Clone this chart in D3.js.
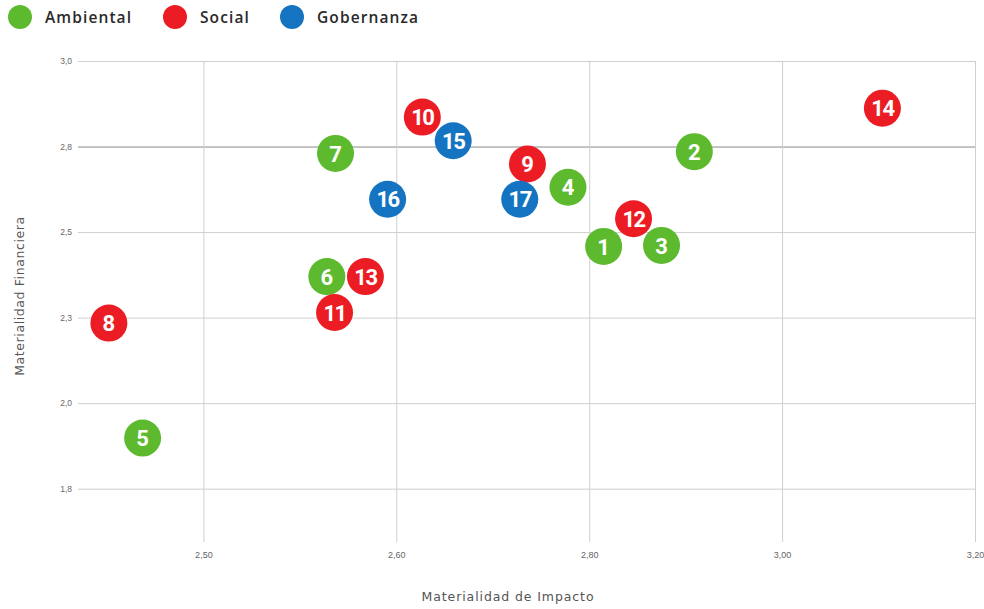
<!DOCTYPE html>
<html>
<head>
<meta charset="utf-8">
<script src="https://cdn.jsdelivr.net/npm/d3@7"></script>
<style>
  body { margin: 0; background: #fff; }
  svg { display: block; font-family: "Open Sans", sans-serif; }
</style>
</head>
<body>
<svg id="chart" width="984" height="609"></svg>
<script>
// data
const groups = ['Ambiental', 'Social', 'Gobernanza'];
const groupColors = ['#5dba2f', '#ec1c24', '#1574c1'];

const ids = [1, 2, 3, 4, 5, 6, 7, 8, 9, 10, 11, 12, 13, 14, 15, 16, 17];
const impacto = [2.815, 2.909, 2.875, 2.778, 2.337, 2.528, 2.537, 2.302, 2.736, 2.627, 2.536, 2.846, 2.568, 3.104, 2.659, 2.591, 2.728];
const financiera = [2.458, 2.735, 2.461, 2.631, 1.898, 2.370, 2.730, 2.234, 2.699, 2.836, 2.265, 2.539, 2.370, 2.862, 2.767, 2.596, 2.596];
const grupo = ['Ambiental', 'Ambiental', 'Ambiental', 'Ambiental', 'Ambiental', 'Ambiental', 'Ambiental',
  'Social', 'Social', 'Social', 'Social', 'Social', 'Social', 'Social',
  'Gobernanza', 'Gobernanza', 'Gobernanza'];

const xTicks = [2.4, 2.6, 2.8, 3.0, 3.2];
const xTickLabels = ['2,50', '2,60', '2,80', '3,00', '3,20'];
const yTicks = [3.0, 2.75, 2.5, 2.25, 2.0, 1.75];
const yTickLabels = ['3,0', '2,8', '2,5', '2,3', '2,0', '1,8'];

const points = ids.map((id, i) => ({ id, x: impacto[i], y: financiera[i], g: grupo[i] }));

const svg = d3.select('#chart');

const x = d3.scaleLinear().domain([2.27, 3.2]).range([78, 975]);
const y = d3.scaleLinear().domain([1.6, 3.0]).range([540, 61]);
const color = d3.scaleOrdinal().domain(groups).range(groupColors);

// horizontal grid + y labels
const yAxis = d3.axisLeft(y)
  .tickValues(yTicks)
  .tickSize(-(975 - 78))
  .tickFormat((d, i) => yTickLabels[i]);

svg.append('g')
  .attr('transform', 'translate(78,0)')
  .call(yAxis)
  .call(g => g.select('.domain').remove())
  .call(g => g.selectAll('.tick line')
    .attr('stroke', (d, i) => i === 1 ? '#8a8a8a' : '#cfcfcf')
    .attr('stroke-width', 1))
  .call(g => g.selectAll('.tick text')
    .attr('x', -6)
    .attr('fill', '#666')
    .style('font-size', '8.5px'));

// vertical grid + x labels
const xAxis = d3.axisBottom(x)
  .tickValues(xTicks)
  .tickSize(-(542 - 61))
  .tickFormat((d, i) => xTickLabels[i]);

svg.append('g')
  .attr('transform', 'translate(0,542)')
  .call(xAxis)
  .call(g => g.select('.domain').remove())
  .call(g => g.selectAll('.tick line').attr('stroke', '#cfcfcf'))
  .call(g => g.selectAll('.tick text')
    .attr('y', 10)
    .attr('fill', '#666')
    .style('font-size', '9px'));

// axis titles
svg.append('text')
  .attr('x', 508)
  .attr('y', 601)
  .attr('text-anchor', 'middle')
  .attr('fill', '#555')
  .style('font-family', '"DejaVu Sans", sans-serif')
  .style('font-size', '12.5px')
  .style('letter-spacing', '0.9px')
  .text('Materialidad de Impacto');

svg.append('text')
  .attr('transform', 'translate(24,296) rotate(-90)')
  .attr('text-anchor', 'middle')
  .attr('fill', '#555')
  .style('font-family', '"DejaVu Sans", sans-serif')
  .style('font-size', '12.5px')
  .style('letter-spacing', '0.6px')
  .text('Materialidad Financiera');

// points
const node = svg.append('g')
  .selectAll('g')
  .data(points)
  .join('g')
  .attr('transform', d => `translate(${x(d.x)},${y(d.y)})`);

node.append('circle')
  .attr('r', 18.5)
  .attr('fill', d => color(d.g));

node.append('text')
  .attr('text-anchor', 'middle')
  .attr('dy', '0.37em')
  .attr('fill', '#fff')
  .style('font-family', 'Roboto, sans-serif')
  .style('font-weight', 'bold')
  .style('font-size', '22px')
  .style('letter-spacing', d => d.id > 9 ? '-1.5px' : '0px')
  .text(d => d.id);

// legend
const legendX = [20, 175, 292];
const legend = svg.append('g')
  .selectAll('g')
  .data(groups)
  .join('g')
  .attr('transform', (d, i) => `translate(${legendX[i]},17)`);

legend.append('circle')
  .attr('r', 12)
  .attr('fill', d => color(d));

legend.append('text')
  .attr('x', 25)
  .attr('dy', '0.36em')
  .attr('fill', '#2a2a2a')
  .style('font-family', '"Open Sans", sans-serif')
  .style('font-weight', '600')
  .style('font-size', '15.5px')
  .style('letter-spacing', '1.1px')
  .text(d => d);
</script>
</body>
</html>
